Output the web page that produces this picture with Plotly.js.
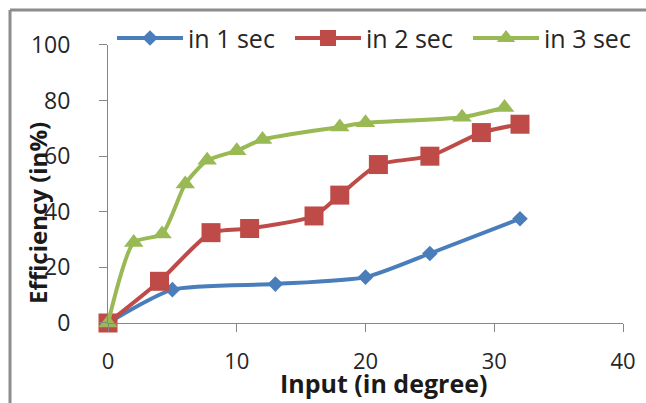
<!DOCTYPE html>
<html>
<head>
<meta charset="utf-8">
<script src="https://cdn.plot.ly/plotly-3.0.1.min.js"></script>
<style>html,body{margin:0;padding:0;background:#fff;}#chart{width:646px;height:403px;}</style>
</head>
<body>
<div id="chart"></div>
<script>
var seriesNames = ["in 1 sec", "in 2 sec", "in 3 sec"];
var x1 = [0, 5, 13, 20, 25, 32];
var y1 = [0, 12, 14, 16.5, 25, 37.5];
var x2 = [0, 4, 8, 11, 16, 18, 21, 25, 29, 32];
var y2 = [0, 15, 32.5, 34, 38.5, 46, 57, 60, 68.5, 71.5];
var x3 = [0, 2, 4.2, 6, 7.7, 10, 12, 18, 20, 27.5, 30.8];
var y3 = [0, 29, 32, 50, 58.5, 62, 66, 70.5, 72, 74, 77.5];
var xTicks = [0, 10, 20, 30, 40];
var yTicks = [0, 20, 40, 60, 80, 100];
var xTitle = "Input (in degree)";
var yTitle = "Efficiency (in%)";

var font = "Open Sans, Liberation Sans, sans-serif";
var traces = [
  {x: x1, y: y1, name: seriesNames[0], type: "scatter", mode: "lines+markers",
   line: {color: "#4A7EBB", width: 4, shape: "spline", smoothing: 0.6},
   marker: {symbol: "diamond", size: 12, color: "#4A7EBB"}, cliponaxis: false},
  {x: x2, y: y2, name: seriesNames[1], type: "scatter", mode: "lines+markers",
   line: {color: "#BE4B48", width: 4, shape: "spline", smoothing: 0.6},
   marker: {symbol: "square", size: 19, color: "#BE4B48"}, cliponaxis: false},
  {x: x3, y: y3, name: seriesNames[2], type: "scatter", mode: "lines+markers",
   line: {color: "#98B954", width: 4, shape: "spline", smoothing: 0.6},
   marker: {symbol: "triangle-up", size: 17, color: "#98B954"}, cliponaxis: false}
];

// paper area: l=0, r=0, t=20, b=80  -> 646 x 303 px
var layout = {
  width: 646, height: 403,
  margin: {l: 0, r: 0, t: 20, b: 80, pad: 0, autoexpand: false},
  paper_bgcolor: "#fff", plot_bgcolor: "#fff",
  font: {family: font, size: 24, color: "#262626"},
  showlegend: true,
  legend: {orientation: "h", x: 0.1734, xanchor: "left", y: 0.94, yanchor: "middle",
           bgcolor: "rgba(0,0,0,0)", font: {family: font, size: 25, color: "#262626"},
           entrywidth: 97, entrywidthmode: "pixels", itemwidth: 66, tracegroupgap: 0},
  xaxis: {domain: [0.1672, 0.9644], range: [0, 40], tickvals: xTicks, ticktext: xTicks.map(String),
          showgrid: false, zeroline: false, showline: true, linecolor: "#868686", linewidth: 1,
          ticks: "outside", ticklen: 8, tickcolor: "#868686", ticklabelstandoff: 11,
          tickfont: {family: font, size: 22, color: "#262626"}, fixedrange: true},
  yaxis: {domain: [0, 0.9175], range: [0, 100], tickvals: yTicks, ticktext: yTicks.map(String),
          showgrid: false, zeroline: false, showline: true, linecolor: "#868686", linewidth: 1,
          ticks: "outside", ticklen: 8, tickcolor: "#868686", ticklabelstandoff: 24,
          tickfont: {family: font, size: 23, color: "#262626"}, fixedrange: true},
  annotations: [
    {text: "<b>" + xTitle + "</b>", xref: "paper", yref: "paper", x: 0.5944, y: -0.262,
     xanchor: "center", yanchor: "bottom", showarrow: false,
     font: {family: font, size: 25, color: "#1a1a1a"}},
    {text: "<b>" + yTitle + "</b>", xref: "paper", yref: "paper", x: 0.0573, y: 0.363,
     xanchor: "center", yanchor: "middle", showarrow: false, textangle: -90,
     font: {family: font, size: 24, color: "#1a1a1a"}}
  ],
  shapes: [
    {type: "line", xref: "paper", yref: "paper", x0: 0.0155, x1: 0.0155, y0: -0.3, y1: 1.033,
     line: {color: "#8C8C8C", width: 3}},
    {type: "line", xref: "paper", yref: "paper", x0: 0.0155, x1: 1.1, y0: 1.033, y1: 1.033,
     line: {color: "#8C8C8C", width: 3}}
  ]
};
Plotly.newPlot("chart", traces, layout, {displayModeBar: false, staticPlot: true});
</script>
</body>
</html>
